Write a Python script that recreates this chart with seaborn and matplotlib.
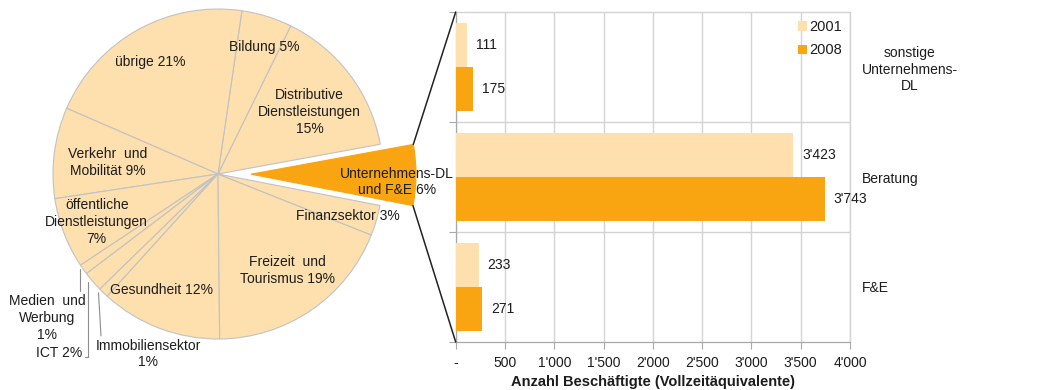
import numpy as np
import pandas as pd
import matplotlib
matplotlib.use("Agg")
import matplotlib.pyplot as plt
from matplotlib.patches import ConnectionPatch
import seaborn as sns

# ---- data -------------------------------------------------------------
pie_labels = ["Unternehmens-DL\nund F&E 6%", "Distributive\nDienstleistungen\n15%",
              "Bildung 5%", "übrige 21%", "Verkehr  und\nMobilität 9%",
              "öffentliche\nDienstleistungen\n7%", "Medien  und\nWerbung\n1%",
              "ICT 2%", "Immobiliensektor\n1%", "Gesundheit 12%",
              "Freizeit  und\nTourismus 19%", "Finanzsektor 3%"]
pie_shares = [6, 15, 5, 21, 9, 7, 1, 2, 1, 12, 19, 3]

bar_categories = ["sonstige\nUnternehmens-\nDL", "Beratung", "F&E"]
years = ["2001", "2008"]
values_2001 = [111, 3423, 233]
values_2008 = [175, 3743, 271]
x_ticks = [0, 500, 1000, 1500, 2000, 2500, 3000, 3500, 4000]

LIGHT = "#FDE0AE"
ORANGE = "#F9A512"
TEXT = "#1c1c1c"
GRID = "#D3D3D3"
AXIS = "#A8A8A8"

sns.set_theme(style="white")
plt.rcParams["font.family"] = ["Liberation Sans", "DejaVu Sans"]
plt.rcParams["text.color"] = TEXT

W, H = 1048, 390
fig = plt.figure(figsize=(W / 100, H / 100), dpi=100)

# ---- pie (left) -------------------------------------------------------
cx, cy, R = 218, 174, 165          # centre and radius in pixels
pw = 440
ax_pie = fig.add_axes([0, 0, pw / W, 1])
colors = [ORANGE] + [LIGHT] * (len(pie_shares) - 1)
explode = [0.2] + [0] * (len(pie_shares) - 1)
wedges, _ = ax_pie.pie(pie_shares, colors=colors, explode=explode, startangle=-11,
                       counterclock=True,
                       wedgeprops=dict(edgecolor="#C2C2C2", linewidth=0.8))
wedges[0].set_edgecolor(ORANGE)
ax_pie.set_aspect("auto")
ax_pie.set_xlim(-cx / R, (pw - cx) / R)
ax_pie.set_ylim(-(H - cy) / R, cy / R)
ax_pie.axis("off")

def mid_angle(w):
    return np.deg2rad((w.theta1 + w.theta2) / 2)

# inner labels: (index, radius factor, angle offset in degrees)
inner = [(0, 0.885, -2.8), (1, 0.67, -3), (2, 0.82, -2.8), (3, 0.79, 2),
         (4, 0.67, 1.5), (5, 0.79, 0.5), (9, 0.78, -5), (10, 0.72, 1.5),
         (11, 0.83, -1.7)]
for i, r, d in inner:
    w = wedges[i]
    a = mid_angle(w) + np.deg2rad(d)
    ox, oy = w.center
    ax_pie.text(ox + r * np.cos(a), oy + r * np.sin(a), pie_labels[i],
                ha="center", va="center", fontsize=10, linespacing=1.25)

def px(x, y):
    return (x - cx) / R, (cy - y) / R

lead = dict(color="#8C8C8C", lw=0.8)
# Medien und Werbung
a = mid_angle(wedges[6]); ax_, ay_ = np.cos(a), np.sin(a)
ax_pie.plot([ax_ - 0.02, ax_ - 0.02], [ay_, px(0, 291)[1]], **lead)
tx, ty = px(47, 318)
ax_pie.text(tx, ty, pie_labels[6], ha="center", va="center", fontsize=10, linespacing=1.25)
# ICT
a = mid_angle(wedges[7]); ax_, ay_ = np.cos(a), np.sin(a)
yb = px(0, 357)[1]
ax_pie.plot([ax_ - 0.03, ax_ - 0.03, px(85, 0)[0]], [ay_, yb, yb], **lead)
tx, ty = px(82, 353)
ax_pie.text(tx, ty, pie_labels[7], ha="right", va="center", fontsize=10)
# Immobiliensektor
a = mid_angle(wedges[8]); ax_, ay_ = np.cos(a), np.sin(a)
ex, ey = px(101, 336)
ax_pie.plot([ax_ - 0.03, ex], [ay_, ey], **lead)
tx, ty = px(148, 354)
ax_pie.text(tx, ty, pie_labels[8], ha="center", va="center", fontsize=10, linespacing=1.25)

# ---- bars (right) -----------------------------------------------------
x0, x1, y0, y1 = 455.7, 850, 12, 342
ax = fig.add_axes([x0 / W, 1 - y1 / H, (x1 - x0) / W, (y1 - y0) / H])

df = pd.DataFrame({
    "Kategorie": bar_categories * 2,
    "Jahr": [years[0]] * 3 + [years[1]] * 3,
    "Wert": values_2001 + values_2008,
})
sns.barplot(data=df, y="Kategorie", x="Wert", hue="Jahr", orient="h",
            palette=[LIGHT, ORANGE], saturation=1, width=0.8, linewidth=0,
            ax=ax, zorder=3)

for cont in ax.containers:
    ax.bar_label(cont, labels=[f"{int(v):,}".replace(",", "'") for v in cont.datavalues],
                 padding=6.5, fontsize=10, color=TEXT)

ax.set_xlim(0, 4000)
ax.set_ylim(2.5, -0.5)
ax.set_xticks(x_ticks)
ax.set_xticklabels(["-" if t == 0 else f"{t:,}".replace(",", "'") for t in x_ticks])
ax.xaxis.grid(True, color=GRID, lw=1, zorder=0)
ax.set_axisbelow(True)
for yb in [0.5, 1.5]:
    ax.axhline(yb, color=GRID, lw=1, zorder=1)

ax.set_yticks([-0.5, 0.5, 1.5, 2.5], minor=True)
ax.tick_params(axis="y", which="minor", left=True, right=False, length=5,
               color=AXIS, width=0.8, direction="out")
ax.tick_params(axis="y", which="major", left=False, right=True, labelleft=False,
               labelright=True, length=0, pad=8.5, labelsize=10, labelcolor=TEXT)
for lab in ax.get_yticklabels():
    lab.set_multialignment("center")
ax.tick_params(axis="x", bottom=True, length=5, color=AXIS, width=0.8,
               direction="out", pad=5, labelsize=10, labelcolor=TEXT)

for side in ["left", "bottom"]:
    ax.spines[side].set_color(AXIS)
    ax.spines[side].set_linewidth(0.9)
for side in ["top", "right"]:
    ax.spines[side].set_color(GRID)
    ax.spines[side].set_linewidth(1)

ax.set_ylabel("")
ax.set_xlabel("Anzahl Beschäftigte (Vollzeitäquivalente)", fontsize=10.5,
              fontweight="bold", labelpad=4, color=TEXT)

leg = ax.legend(loc="upper right", bbox_to_anchor=(1.0, 1.0), frameon=False,
                handlelength=0.6, handleheight=0.6, handletextpad=0.15,
                labelspacing=0.65, borderaxespad=0.0, borderpad=0.55,
                fontsize=10.5)
for t in leg.get_texts():
    t.set_color(TEXT)

# ---- connector lines from exploded wedge to the bar axes ---------------
w0 = wedges[0]
ox, oy = w0.center
for theta, yfrac in [(w0.theta2, 1.0), (w0.theta1, 0.0)]:
    t = np.deg2rad(theta)
    con = ConnectionPatch(xyA=(ox + np.cos(t), oy + np.sin(t)), coordsA=ax_pie.transData,
                          xyB=(0, yfrac), coordsB=ax.transAxes,
                          color="#222222", lw=1.1)
    fig.add_artist(con)

fig.savefig("out.png", dpi=100)
